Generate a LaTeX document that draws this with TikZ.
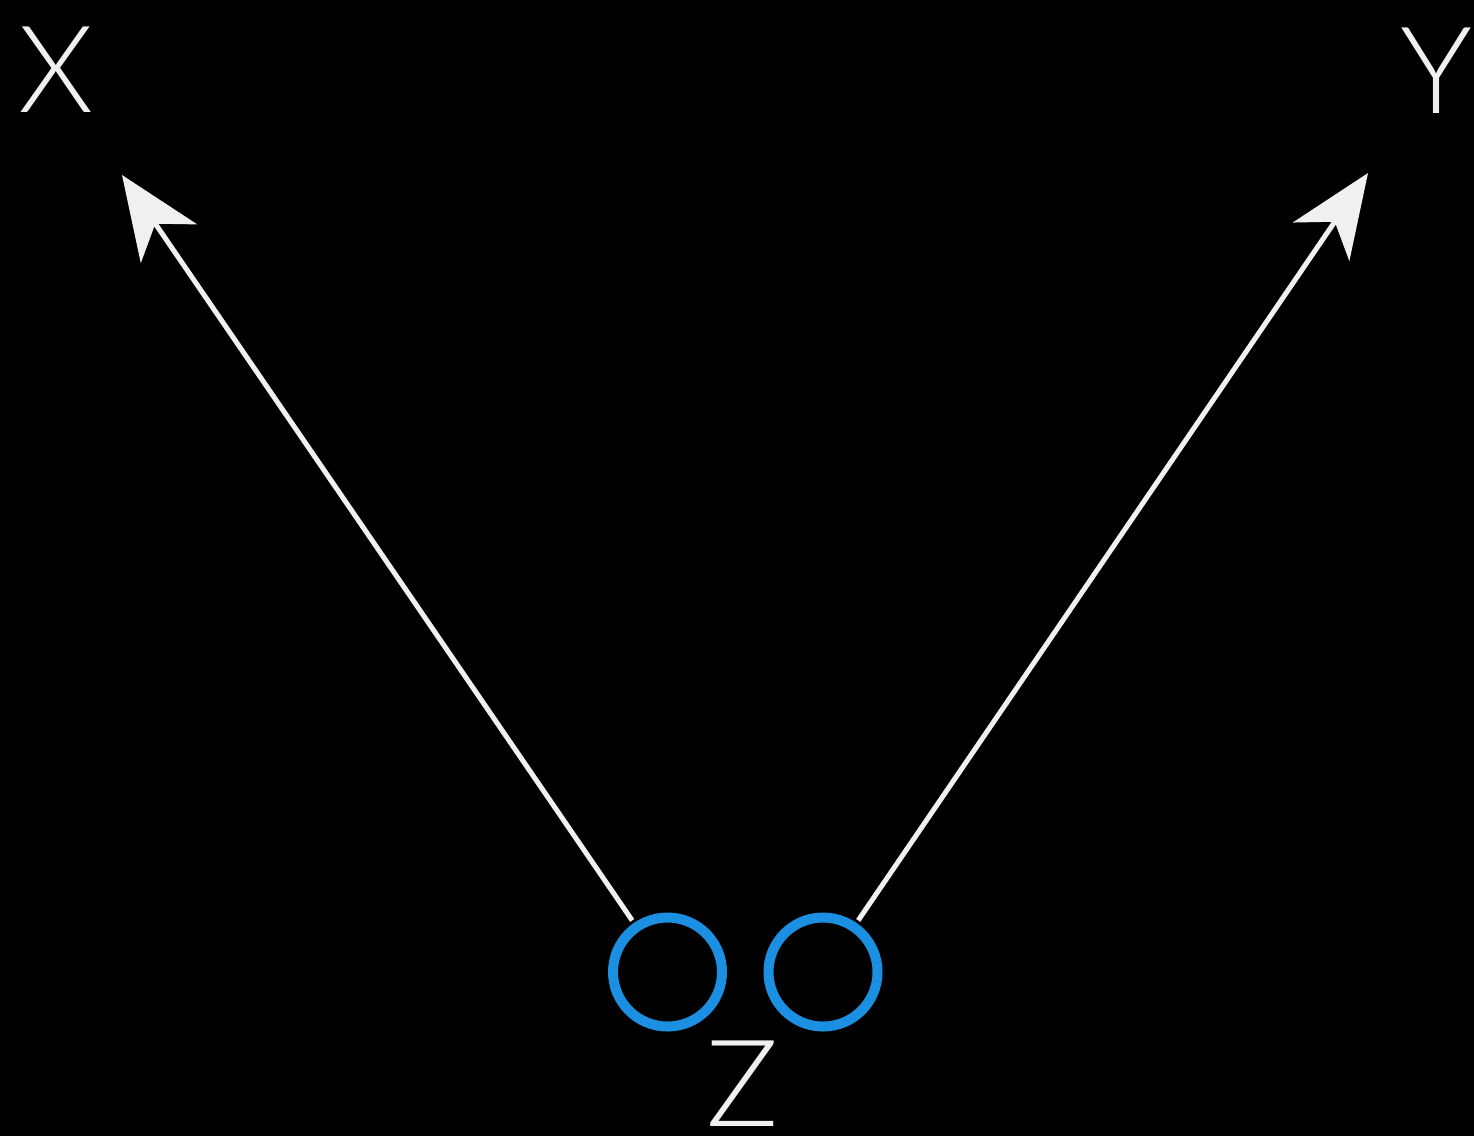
\documentclass[tikz,border=0pt]{standalone}
\usepackage{fontspec}
\setmainfont{Lato}[UprightFont=* Light]
\usetikzlibrary{arrows.meta}
\definecolor{zblue}{RGB}{27,143,226}
\definecolor{lnw}{RGB}{240,240,240}
\begin{document}
\begin{tikzpicture}[x=1pt,y=-1pt,
  ring/.style={circle,draw=zblue,line width=10pt,minimum size=109pt,inner sep=0pt},
  lbl/.style={text=lnw,inner sep=0pt,font=\fontsize{121}{121}\selectfont},
  conn/.style={draw=lnw,line width=5pt,shorten <=3pt,
    -{Stealth[length=83pt,width=68pt,inset=24pt]}}]
\fill[black] (0,0) rectangle (1474,1136);
\useasboundingbox (0,0) rectangle (1474,1136);
\node[lbl] (X) at (56,70) {X};
\node[lbl] (Y) at (1436,71) {Y};
\node[lbl] (Z) at (743,1084) {Z};
\node[ring] (c1) at (667.5,972) {};
\node[ring] (c2) at (823,972) {};
\coordinate (xtip) at (122,175);
\coordinate (ytip) at (1368,173);
\draw[conn] (c1) -- (xtip);
\draw[conn] (c2) -- (ytip);
\end{tikzpicture}
\end{document}
